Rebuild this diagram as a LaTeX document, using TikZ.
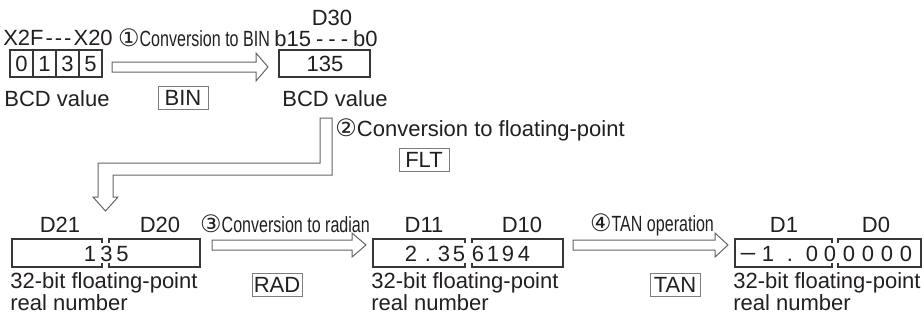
\documentclass[tikz,border=0pt]{standalone}
\usepackage{fontspec}
\setmainfont{Liberation Sans}
\newfontfamily\circfont{DejaVu Sans}
\usepackage{graphicx}
\usetikzlibrary{positioning}
\definecolor{ink}{RGB}{35,31,32}
\definecolor{frame}{RGB}{55,55,55}
\definecolor{opframe}{RGB}{125,125,125}
\definecolor{arrline}{RGB}{100,100,100}
\tikzset{
  lbl/.style={inner sep=0pt,text=ink,font=\fontsize{11}{12}\selectfont},
  digit/.style={lbl,anchor=base},
  opbox/.style={lbl,draw=opframe,line width=0.5pt,minimum width=25pt,
    minimum height=11.5pt},
  reg/.style={draw=frame,line width=0.6pt},
  % hollow block arrows between the steps
  hollow/.style={draw=arrline,line width=0.5pt,fill=white,line join=miter},
  numlbl/.style={lbl,align=left,anchor=north west,
    font=\fontsize{11}{11}\selectfont}
}
\newcommand{\stepno}[1]{{\circfont\fontsize{12}{12}\selectfont #1}}
\newcommand{\narrow}[1]{\scalebox{0.73}[1]{#1}}

\begin{document}
\begin{tikzpicture}[x=0.5pt,y=-0.5pt]
\useasboundingbox (0,0) rectangle (924,323);
\def\regpair#1#2#3#4{%
  \draw[reg] (#2,243) -- (#2,239) -- (#1,239) -- (#1,267) -- (#2,267) -- (#2,263);
  \draw[reg] (#3,243) -- (#3,239) -- (#4,239) -- (#4,267) -- (#3,267) -- (#3,263);}
% ---------------- top row: BCD value -> BIN ----------------
\node[lbl] (xrange) at (58,38) {X2F\kern1pt-\kern1pt-\kern1pt-\kern1pt X20};
\draw[reg] (10,50) rectangle (102,77);
\foreach \x in {33,56,79} \draw[reg] (\x,50) -- (\x,77);
\foreach \x/\d in {21.5/0,44.5/1,67.5/3,90.5/5}
  \node[digit] (bcd\d) at (\x,71) {\d};
\node[lbl] (bcdlab) at (57,99) {BCD value};
\draw[hollow] (112,62) -- (256,62) -- (256,53) -- (268,67) -- (256,81)
  -- (256,72) -- (112,72) -- cycle;
\node[lbl] (step1) at (194,38) {\stepno{①}\narrow{Conversion to BIN}};
\node[opbox] (bin) at (183,98) {BIN};
\node[lbl] (d30) at (332,18) {D30};
\node[lbl] (brange) at (326,39) {b15\kern2.5pt-\kern2.5pt-\kern2.5pt-\kern2.5pt b0};
\draw[reg] (279,50) rectangle (370,77);
\node[digit] (bin135) at (325,71) {135};
\node[lbl] (binlab) at (335,99) {BCD value};
% ---------------- turn down to floating point ----------------
\draw[hollow] (320,118) -- (332,118) -- (332,175) -- (113,175) -- (113,197)
  -- (118,197) -- (105.5,211) -- (93,197) -- (98,197) -- (98,163)
  -- (320,163) -- cycle;
\node[lbl,anchor=west] (step2) at (335,130) {\stepno{②}Conversion to floating-point};
\node[opbox] (flt) at (424,160) {FLT};
% ---------------- bottom row ----------------
\node[lbl] (d21) at (60,225) {D21};
\node[lbl] (d20) at (160,225) {D20};
\regpair{12}{102}{109}{200}
\foreach \x/\d in {90/1,106.5/3,122.5/5}
  \node[digit] (flt\d) at (\x,261) {\d};
\node[numlbl] (fltlab) at (10,272) {32-bit floating-point\\real number};
\draw[hollow] (212,240) -- (352,240) -- (352,233) -- (366,245) -- (352,257)
  -- (352,250) -- (212,250) -- cycle;
\node[lbl] (step3) at (285,224) {\stepno{③}\narrow{Conversion to radian}};
\node[opbox] (rad) at (277,285) {RAD};
\node[lbl] (d11) at (424,225) {D11};
\node[lbl] (d10) at (522,225) {D10};
\regpair{373}{465}{472}{563}
\foreach \x/\d [count=\i] in {411/2,428/.,444/3,459/5,478/6,493/1,508/9,524/4}
  \node[digit] (radv\i) at (\x,261) {\d};
\node[numlbl] (radlab) at (371,272) {32-bit floating-point\\real number};
\draw[hollow] (573,240) -- (715,240) -- (715,233) -- (728,245) -- (715,257)
  -- (715,250) -- (573,250) -- cycle;
\node[lbl] (step4) at (652,225) {\stepno{④}\narrow{TAN operation}};
\node[opbox] (tan) at (675,285) {TAN};
\node[lbl] (d1) at (784,225) {D1};
\node[lbl] (d0) at (876,225) {D0};
\regpair{735}{832}{838}{921}
\node[digit] (tanminus) at (748,261) {\scalebox{1.35}[1]{−}};
\foreach \x/\d [count=\i] in {768/1,790/.,812/0,830/0,849/0,868/0,887/0,906/0}
  \node[digit] (tanv\i) at (\x,261) {\d};
\node[numlbl] (tanlab) at (733,272) {32-bit floating-point\\real number};
\end{tikzpicture}
\end{document}
